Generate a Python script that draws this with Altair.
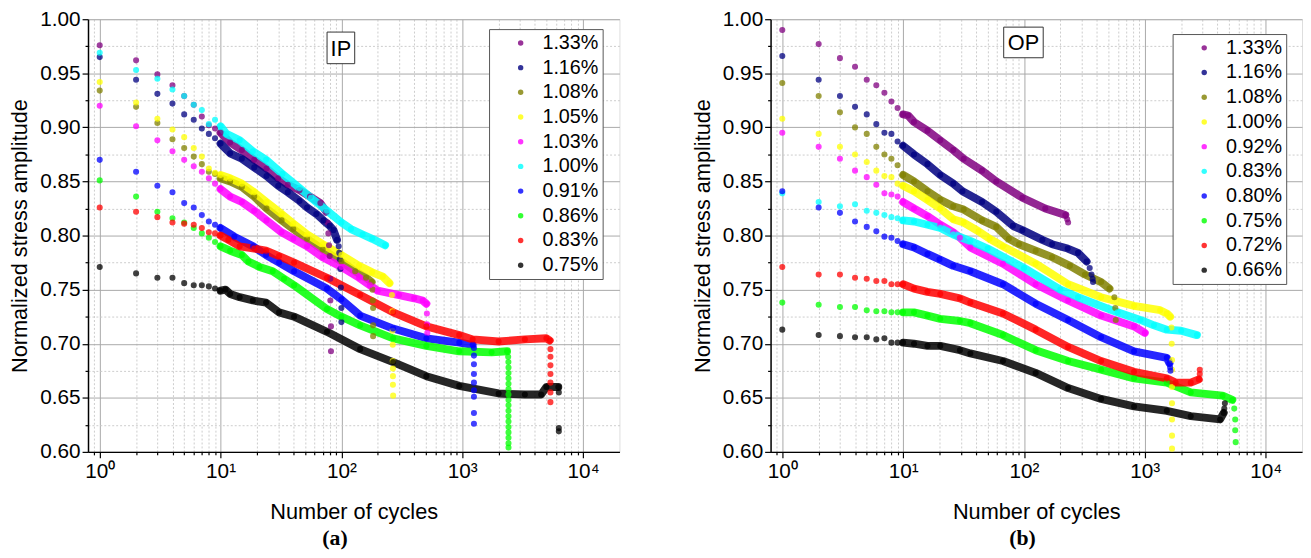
import altair as alt
import pandas as pd

# ---------------- data ----------------
EARLY_N = [1, 2, 3, 4, 5, 6, 7, 8, 9]

IP_LABELS = ["1.33%", "1.16%", "1.08%", "1.05%", "1.03%", "1.00%", "0.91%", "0.86%", "0.83%", "0.75%"]
IP_COLORS = ["#800080", "#000080", "#808000", "#ffff00", "#ff00ff", "#00ffff", "#0000ff", "#00ff00", "#ff0000", "#000000"]

OP_LABELS = ["1.33%", "1.16%", "1.08%", "1.00%", "0.92%", "0.83%", "0.80%", "0.75%", "0.72%", "0.66%"]
OP_COLORS = IP_COLORS

# ---- IP ----
ip133_early = [0.976, 0.962, 0.949, 0.939, 0.929, 0.921, 0.910, 0.902, 0.899]
ip133_band_n = [10, 12, 15, 19, 24, 30, 36, 45, 55, 67, 75]
ip133_band_v = [0.895, 0.886, 0.879, 0.870, 0.862, 0.853, 0.847, 0.842, 0.836, 0.830, 0.822]
ip133_drop_n = [77, 78, 79, 80, 81, 81, 82, 82]
ip133_drop_v = [0.812, 0.802, 0.791, 0.781, 0.760, 0.740, 0.716, 0.693]

ip116_early = [0.965, 0.944, 0.931, 0.922, 0.912, 0.907, 0.899, 0.894, 0.890]
ip116_band_n = [10, 12, 15, 19, 24, 30, 36, 45, 52, 62, 71, 80, 86, 92]
ip116_band_v = [0.885, 0.876, 0.871, 0.863, 0.855, 0.846, 0.840, 0.832, 0.826, 0.820, 0.814, 0.809, 0.805, 0.796]
ip116_drop_n = [95, 96, 97, 98, 99, 100, 100]
ip116_drop_v = [0.790, 0.784, 0.778, 0.769, 0.752, 0.733, 0.720]

ip108_early = [0.934, 0.919, 0.904, 0.889, 0.881, 0.873, 0.866, 0.859, 0.857]
ip108_band_n = [10, 12, 15, 19, 24, 32, 40, 52, 70, 100, 130, 160, 178]
ip108_band_v = [0.853, 0.850, 0.845, 0.836, 0.825, 0.814, 0.806, 0.797, 0.787, 0.776, 0.767, 0.761, 0.757]
ip108_drop_n = [181, 182, 183, 183, 183]
ip108_drop_v = [0.750, 0.740, 0.733, 0.717, 0.707]

ip105_early = [0.942, 0.923, 0.908, 0.898, 0.891, 0.881, 0.873, 0.862, 0.858]
ip105_band_n = [10, 12, 15, 19, 24, 32, 40, 52, 70, 100, 140, 180, 220, 250]
ip105_band_v = [0.856, 0.853, 0.848, 0.840, 0.831, 0.820, 0.811, 0.801, 0.792, 0.782, 0.772, 0.766, 0.762, 0.756]
ip105_drop_n = [262, 264, 265, 266, 266, 267, 267, 267, 268]
ip105_drop_v = [0.745, 0.730, 0.712, 0.699, 0.684, 0.677, 0.670, 0.662, 0.652]

ip103_early = [0.920, 0.901, 0.888, 0.878, 0.870, 0.864, 0.859, 0.853, 0.848]
ip103_band_n = [10, 12, 15, 19, 24, 32, 40, 52, 70, 100, 140, 172, 200, 300, 400, 470, 505]
ip103_band_v = [0.843, 0.836, 0.831, 0.823, 0.814, 0.803, 0.797, 0.790, 0.780, 0.771, 0.761, 0.754, 0.749, 0.745, 0.742, 0.740, 0.737]
ip103_drop_n = [510, 512, 514]
ip103_drop_v = [0.728, 0.718, 0.710]

ip100_early = [0.969, 0.953, 0.945, 0.935, 0.929, 0.921, 0.916, 0.903, 0.907]
ip100_band_n = [10, 11.2, 14.4, 18.5, 23.8, 32.5, 45, 56, 76, 100, 120, 150, 180, 230]
ip100_band_v = [0.901, 0.894, 0.888, 0.878, 0.870, 0.857, 0.844, 0.835, 0.823, 0.812, 0.806, 0.801, 0.797, 0.791]
ip100_drop_n = []
ip100_drop_v = []

ip091_early = [0.870, 0.859, 0.846, 0.840, 0.830, 0.826, 0.819, 0.813, 0.810]
ip091_band_n = [10, 13, 18.6, 23.8, 30.5, 40.6, 76, 100, 143, 268, 505, 945, 1220]
ip091_band_v = [0.807, 0.799, 0.790, 0.782, 0.775, 0.767, 0.751, 0.741, 0.726, 0.714, 0.705, 0.701, 0.699]
ip091_drop_n = [1250, 1250, 1250, 1250, 1250, 1250, 1250, 1250, 1250]
ip091_drop_v = [0.696, 0.689, 0.681, 0.672, 0.664, 0.657, 0.651, 0.636, 0.626]

ip086_early = [0.851, 0.836, 0.822, 0.816, 0.812, 0.807, 0.802, 0.798, 0.794]
ip086_band_n = [10, 12, 15, 17, 21, 27, 33.5, 40.6, 76, 100, 143, 268, 505, 945, 1750, 2350]
ip086_band_v = [0.790, 0.786, 0.782, 0.776, 0.771, 0.767, 0.760, 0.754, 0.732, 0.725, 0.717, 0.705, 0.698, 0.693, 0.692, 0.693]
ip086_drop_n = [2400, 2410, 2415, 2415, 2415, 2415, 2415, 2415, 2415, 2415, 2415, 2415, 2415, 2415, 2415, 2415, 2415, 2415]
ip086_drop_v = [0.688, 0.683, 0.678, 0.673, 0.668, 0.663, 0.658, 0.653, 0.648, 0.643, 0.638, 0.633, 0.628, 0.623, 0.618, 0.613, 0.608, 0.604]

ip083_early = [0.826, 0.822, 0.817, 0.812, 0.811, 0.810, 0.807, 0.803, 0.802]
ip083_band_n = [10, 11.6, 14.4, 19, 23.8, 30.5, 40.6, 76, 143, 268, 505, 945, 1220, 2000, 3300, 4970, 5300]
ip083_band_v = [0.800, 0.796, 0.790, 0.788, 0.786, 0.781, 0.775, 0.761, 0.745, 0.729, 0.716, 0.708, 0.704, 0.702, 0.704, 0.705, 0.703]
ip083_drop_n = [5370, 5370, 5370, 5370, 5370, 5370, 5370]
ip083_drop_v = [0.695, 0.688, 0.680, 0.672, 0.664, 0.655, 0.646]

ip075_early = [0.771, 0.765, 0.761, 0.761, 0.756, 0.754, 0.754, 0.753, 0.751]
ip075_band_n = [10, 11, 12, 14.4, 18.5, 23.8, 30.5, 40.6, 76, 143, 268, 505, 945, 2000, 3300, 4500, 4970, 6240]
ip075_band_v = [0.749, 0.750, 0.746, 0.743, 0.740, 0.738, 0.729, 0.725, 0.711, 0.695, 0.683, 0.670, 0.661, 0.654, 0.653, 0.653, 0.660, 0.660]
ip075_drop_n = [6300, 6300, 6300]
ip075_drop_v = [0.655, 0.622, 0.619]

# ---- OP ----
op133_early = [0.990, 0.977, 0.964, 0.956, 0.944, 0.939, 0.932, 0.924, 0.918]
op133_band_n = [10, 11, 12.3, 15.9, 20.3, 26, 31.7, 45, 59, 97, 150, 220]
op133_band_v = [0.912, 0.911, 0.905, 0.897, 0.888, 0.879, 0.871, 0.860, 0.850, 0.835, 0.825, 0.819]
op133_drop_n = [228, 232]
op133_drop_v = [0.815, 0.812]

op116_early = [0.966, 0.944, 0.929, 0.919, 0.912, 0.903, 0.895, 0.894, 0.887]
op116_band_n = [10, 12.3, 15.9, 20.3, 26, 31, 45, 59, 81, 97, 142, 171, 230, 280, 330]
op116_band_v = [0.883, 0.875, 0.866, 0.856, 0.848, 0.841, 0.831, 0.822, 0.809, 0.805, 0.796, 0.792, 0.788, 0.784, 0.776]
op116_drop_n = [350, 362, 370, 373]
op116_drop_v = [0.770, 0.764, 0.760, 0.757]

op108_early = [0.941, 0.929, 0.914, 0.900, 0.894, 0.882, 0.875, 0.871, 0.865]
op108_band_n = [10, 12.3, 15.9, 20.3, 26, 31.7, 45, 59, 75, 91, 125, 171, 240, 320, 435, 510]
op108_band_v = [0.856, 0.850, 0.841, 0.833, 0.827, 0.824, 0.814, 0.808, 0.797, 0.792, 0.786, 0.780, 0.772, 0.764, 0.757, 0.751]
op108_drop_n = [560, 570, 575]
op108_drop_v = [0.743, 0.733, 0.722]

op100_early = [0.908, 0.894, 0.882, 0.875, 0.868, 0.860, 0.855, 0.854, 0.848]
op100_band_n = [10, 12.3, 15.9, 20.3, 26, 31.7, 42, 52, 67, 125, 232, 435, 815, 1340, 1520, 1620]
op100_band_v = [0.846, 0.841, 0.833, 0.825, 0.815, 0.812, 0.804, 0.797, 0.790, 0.774, 0.755, 0.743, 0.735, 0.731, 0.728, 0.725]
op100_drop_n = [1660, 1670, 1680, 1680, 1680, 1680, 1680, 1680, 1680]
op100_drop_v = [0.715, 0.700, 0.685, 0.676, 0.660, 0.645, 0.630, 0.615, 0.603]

op092_early = [0.895, 0.882, 0.871, 0.860, 0.854, 0.847, 0.839, 0.838, 0.836]
op092_band_n = [10, 12.3, 15.9, 20.3, 26, 29.5, 36, 67, 125, 232, 435, 815, 1000]
op092_band_v = [0.831, 0.825, 0.818, 0.810, 0.803, 0.798, 0.789, 0.774, 0.755, 0.740, 0.726, 0.716, 0.710]
op092_drop_n = []
op092_drop_v = []

op083_early = [0.839, 0.831, 0.827, 0.829, 0.823, 0.821, 0.819, 0.817, 0.816]
op083_band_n = [10, 12.3, 15.9, 20.3, 26, 36, 50, 100, 200, 280, 595, 920, 1190, 1520, 2000, 2700]
op083_band_v = [0.814, 0.813, 0.810, 0.807, 0.801, 0.795, 0.788, 0.770, 0.750, 0.743, 0.729, 0.722, 0.717, 0.713, 0.712, 0.708]
op083_drop_n = []
op083_drop_v = []

op080_early = [0.841, 0.826, 0.821, 0.813, 0.808, 0.804, 0.799, 0.798, 0.795]
op080_band_n = [10, 12.3, 15.9, 20, 26, 36, 67, 125, 232, 435, 815, 1520, 1600]
op080_band_v = [0.792, 0.789, 0.783, 0.778, 0.772, 0.767, 0.755, 0.737, 0.722, 0.706, 0.693, 0.687, 0.682]
op080_drop_n = [1620, 1630]
op080_drop_v = [0.678, 0.675]

op075_early = [0.738, 0.736, 0.734, 0.734, 0.731, 0.730, 0.730, 0.729, 0.729]
op075_band_n = [10, 12.3, 15.9, 20.3, 29.5, 36, 67, 125, 232, 435, 815, 1520, 2400, 4400, 5300]
op075_band_v = [0.729, 0.729, 0.726, 0.723, 0.721, 0.719, 0.708, 0.694, 0.684, 0.676, 0.668, 0.664, 0.655, 0.652, 0.648]
op075_drop_n = [5500, 5600, 5600, 5650]
op075_drop_v = [0.640, 0.630, 0.620, 0.609]

op072_early = [0.771, 0.764, 0.764, 0.761, 0.760, 0.758, 0.758, 0.755, 0.755]
op072_band_n = [10, 12.3, 15.9, 20.3, 29.5, 36, 67, 125, 232, 435, 815, 1520, 1800, 2400, 2800]
op072_band_v = [0.755, 0.751, 0.748, 0.746, 0.742, 0.738, 0.728, 0.713, 0.697, 0.684, 0.674, 0.668, 0.664, 0.664, 0.667]
op072_drop_n = [2850, 2850]
op072_drop_v = [0.672, 0.676]

op066_early = [0.713, 0.708, 0.707, 0.706, 0.706, 0.704, 0.705, 0.701, 0.701]
op066_band_n = [10, 12.3, 15.9, 20.3, 29.5, 36, 67, 125, 232, 435, 815, 1520, 2400, 4200, 4500]
op066_band_v = [0.701, 0.700, 0.698, 0.698, 0.694, 0.691, 0.684, 0.673, 0.659, 0.649, 0.642, 0.638, 0.633, 0.630, 0.636]
op066_drop_n = [4550, 4600]
op066_drop_v = [0.640, 0.645]

IP_SERIES = [
    (ip133_early, ip133_band_n, ip133_band_v, ip133_drop_n, ip133_drop_v),
    (ip116_early, ip116_band_n, ip116_band_v, ip116_drop_n, ip116_drop_v),
    (ip108_early, ip108_band_n, ip108_band_v, ip108_drop_n, ip108_drop_v),
    (ip105_early, ip105_band_n, ip105_band_v, ip105_drop_n, ip105_drop_v),
    (ip103_early, ip103_band_n, ip103_band_v, ip103_drop_n, ip103_drop_v),
    (ip100_early, ip100_band_n, ip100_band_v, ip100_drop_n, ip100_drop_v),
    (ip091_early, ip091_band_n, ip091_band_v, ip091_drop_n, ip091_drop_v),
    (ip086_early, ip086_band_n, ip086_band_v, ip086_drop_n, ip086_drop_v),
    (ip083_early, ip083_band_n, ip083_band_v, ip083_drop_n, ip083_drop_v),
    (ip075_early, ip075_band_n, ip075_band_v, ip075_drop_n, ip075_drop_v),
]
OP_SERIES = [
    (op133_early, op133_band_n, op133_band_v, op133_drop_n, op133_drop_v),
    (op116_early, op116_band_n, op116_band_v, op116_drop_n, op116_drop_v),
    (op108_early, op108_band_n, op108_band_v, op108_drop_n, op108_drop_v),
    (op100_early, op100_band_n, op100_band_v, op100_drop_n, op100_drop_v),
    (op092_early, op092_band_n, op092_band_v, op092_drop_n, op092_drop_v),
    (op083_early, op083_band_n, op083_band_v, op083_drop_n, op083_drop_v),
    (op080_early, op080_band_n, op080_band_v, op080_drop_n, op080_drop_v),
    (op075_early, op075_band_n, op075_band_v, op075_drop_n, op075_drop_v),
    (op072_early, op072_band_n, op072_band_v, op072_drop_n, op072_drop_v),
    (op066_early, op066_band_n, op066_band_v, op066_drop_n, op066_drop_v),
]

FONT = "Liberation Sans"


def build_frame(labels, series):
    rows = []
    for order, (lab, (early, bn, bv, dn, dv)) in enumerate(zip(labels, series)):
        for n, v in zip(EARLY_N, early):
            rows.append(dict(N=n, V=v, s=lab, kind="dot", o=order))
        for n, v in zip(bn, bv):
            rows.append(dict(N=n, V=v, s=lab, kind="band", o=order))
        for n, v in zip(dn, dv):
            rows.append(dict(N=n, V=v, s=lab, kind="drop", o=order))
    return pd.DataFrame(rows)


X_VALUES = [0.9] + [k * 10 ** e for e in range(0, 4) for k in range(1, 10)] + [10000]
Y_VALUES = [round(0.6 + 0.025 * i, 3) for i in range(17)]
X_MAJOR = "indexof([1,10,100,1000,10000], datum.value) >= 0"
Y_MAJOR = "abs(datum.value*20 - round(datum.value*20)) < 0.001"
X_LABELS = ("datum.value == 1 ? '10\u2070' : datum.value == 10 ? '10\u00b9' : "
            "datum.value == 100 ? '10\u00b2' : datum.value == 1000 ? '10\u00b3' : "
            "datum.value == 10000 ? '10\u2074' : ''")

W, H = 538, 438


def panel(labels, colors, series, tag, box, legend_xy, sub, sub_dx):
    df = build_frame(labels, series)
    x = alt.X("N:Q", scale=alt.Scale(type="log", domain=[0.8, 20000], nice=False),
              axis=alt.Axis(values=X_VALUES, labelExpr=X_LABELS, labelOverlap=False, labelFlush=False,
                            title="Number of cycles", titleFont=FONT, titleFontSize=22,
                            titleFontWeight="normal", titleColor="black", titlePadding=20,
                            labelFont=FONT, labelFontSize=21, labelColor="black", labelPadding=3,
                            grid=True,
                            gridColor={"condition": {"test": X_MAJOR, "value": "#a9a9a9"}, "value": "#cccccc"},
                            gridDash={"condition": {"test": X_MAJOR, "value": []}, "value": [2, 2]},
                            gridWidth=1,
                            tickSize={"condition": {"test": X_MAJOR, "value": 6}, "value": 3},
                            tickColor="black", tickWidth=1.2,
                            domainColor="black", domainWidth=1.5))
    y = alt.Y("V:Q", scale=alt.Scale(domain=[0.6, 1.0], nice=False, zero=False),
              axis=alt.Axis(values=Y_VALUES,
                            labelExpr=f"({Y_MAJOR}) ? format(datum.value, '.2f') : ''",
                            labelOverlap=False, labelFlush=False,
                            title="Normalized stress amplitude", titleFont=FONT, titleFontSize=22,
                            titleFontWeight="normal", titleColor="black", titlePadding=8,
                            labelFont=FONT, labelFontSize=21, labelColor="black", labelPadding=2,
                            grid=True,
                            gridColor={"condition": {"test": Y_MAJOR, "value": "#a9a9a9"}, "value": "#cccccc"},
                            gridDash={"condition": {"test": Y_MAJOR, "value": []}, "value": [2, 2]},
                            gridWidth=1,
                            tickSize={"condition": {"test": Y_MAJOR, "value": 6}, "value": 3},
                            tickColor="black", tickWidth=1.2,
                            domainColor="black", domainWidth=1.5))
    cscale = alt.Scale(domain=labels, range=colors)
    base = alt.Chart(df)
    lines = base.transform_filter("datum.kind == 'band'").mark_line(
        strokeWidth=8, opacity=0.85, strokeCap="round", strokeJoin="round", clip=True
    ).encode(x=x, y=y, stroke=alt.Stroke("s:N", scale=cscale, legend=None), detail="s:N")
    dots = base.mark_circle(size=38, opacity=0.75, clip=True).encode(
        x=x, y=y,
        color=alt.Color("s:N", scale=cscale, legend=alt.Legend(
            title=None, orient="none", legendX=legend_xy[0], legendY=legend_xy[1],
            fillColor="white", strokeColor="#555555", padding=4,
            labelFont=FONT, labelFontSize=20, labelColor="black",
            symbolType="circle", symbolSize=30, symbolOpacity=0.8, symbolStrokeWidth=0,
            symbolOffset=18, labelOffset=12, rowPadding=5)),
        order="o:Q")
    tag_df = pd.DataFrame({"t": [tag]})
    rect = alt.Chart(tag_df).mark_rect(fill="white", stroke="#333333", strokeWidth=1).encode(
        x=alt.value(box[0]), x2=alt.value(box[2]), y=alt.value(box[1]), y2=alt.value(box[3]))
    txt = alt.Chart(tag_df).mark_text(font=FONT, fontSize=22, color="black", align="center",
                                      baseline="middle").encode(
        x=alt.value((box[0] + box[2]) / 2), y=alt.value((box[1] + box[3]) / 2 + 1), text="t:N")
    return alt.layer(lines, dots, rect, txt).resolve_scale(stroke="independent").properties(
        width=W, height=H,
        title=alt.TitleParams(text=sub, orient="bottom", anchor="middle", font="Liberation Serif",
                              fontSize=22, fontWeight="bold", color="black", dx=sub_dx, offset=6))


left = panel(IP_LABELS, IP_COLORS, IP_SERIES, "IP", (242, 13, 270, 45), (406, 10), "(a)", -19)
right = panel(OP_LABELS, OP_COLORS, OP_SERIES, "OP", (236, 8, 276, 39), (407, 15), "(b)", -14)

chart = alt.hconcat(left, right, spacing=71).resolve_scale(
    color="independent", stroke="independent").resolve_legend(color="independent").properties(
    padding={"left": 0, "top": -4, "right": 0, "bottom": 0}
).configure_view(stroke=None).configure(background="white")

chart.save("out.html", embed_options={"renderer": "svg", "actions": False})
